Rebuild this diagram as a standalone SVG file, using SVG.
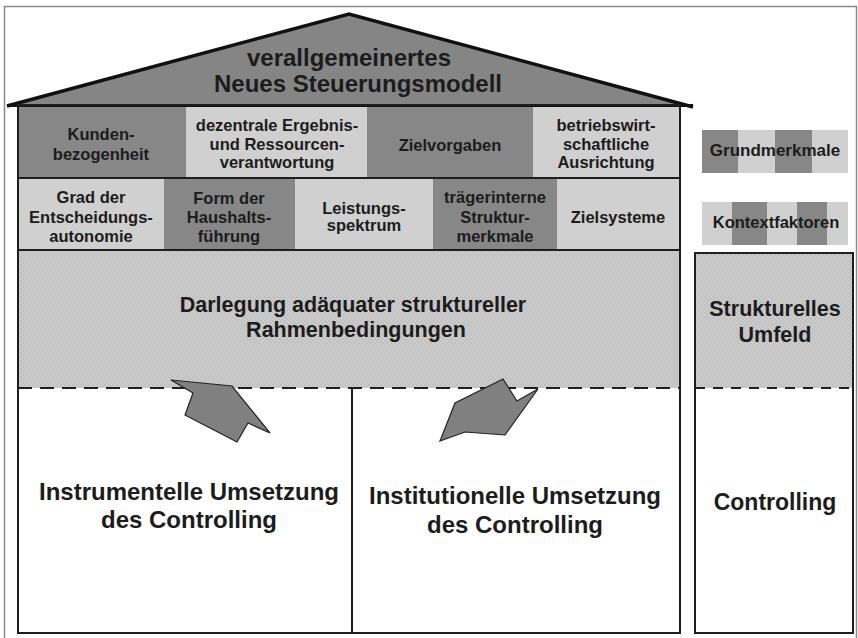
<svg xmlns="http://www.w3.org/2000/svg" width="858" height="638" viewBox="0 0 858 638">
<defs>
<pattern id="tex" width="4" height="4" patternUnits="userSpaceOnUse">
<rect width="4" height="4" fill="#cbcbcb"/>
<rect x="0" y="0" width="2" height="2" fill="#c2c2c2"/>
<rect x="2" y="2" width="2" height="2" fill="#c2c2c2"/>
</pattern>
</defs>
<style>
text{font-family:"Liberation Sans",Arial,Helvetica,sans-serif;font-weight:bold;fill:#1c1c1c;text-anchor:middle}
.dark{fill:#878787}
.light{fill:#d0d0d0}
.c{font-size:16.5px}
.big{font-size:24px}
.mid{font-size:21.5px}
.edge{fill:none;stroke:#1e1e1e;stroke-width:2}
.dash{stroke:#1e1e1e;stroke-width:2;stroke-dasharray:14 8;fill:none}
.arrow{fill:#808080;stroke:#222;stroke-width:1.2;stroke-linejoin:miter}
</style>
<rect width="858" height="638" fill="#ffffff"/>
<rect x="4.5" y="6.5" width="852" height="640" fill="none" stroke="#8a8a8a" stroke-width="1.5"/>

<g id="roof">
<polygon points="7,106 349,14 693,107" fill="#858585"/>
<polyline points="7,106 349,14 693,107" fill="none" stroke="#111" stroke-width="3.5" stroke-linejoin="miter"/>
<line x1="7" y1="105.5" x2="693" y2="105.5" stroke="#111" stroke-width="3"/>
<text class="big" x="349" y="66">verallgemeinertes</text>
<text class="big" x="358" y="92">Neues Steuerungsmodell</text>
</g>

<g id="kunden">
<rect class="dark" x="18" y="107" width="168" height="71"/>
<text class="c" x="101" y="140">Kunden-</text>
<text class="c" x="101" y="160">bezogenheit</text>
</g>
<g id="dezentrale">
<rect class="light" x="186" y="107" width="181" height="71"/>
<text class="c" x="277" y="131">dezentrale Ergebnis-</text>
<text class="c" x="277" y="150">und Ressourcen-</text>
<text class="c" x="277" y="168">verantwortung</text>
</g>
<g id="zielvorgaben">
<rect class="dark" x="367" y="107" width="166" height="71"/>
<text class="c" x="450" y="151">Zielvorgaben</text>
</g>
<g id="betriebswirt">
<rect class="light" x="533" y="107" width="147" height="71"/>
<text class="c" x="606" y="131">betriebswirt-</text>
<text class="c" x="606" y="150">schaftliche</text>
<text class="c" x="606" y="168">Ausrichtung</text>
</g>

<g id="grad">
<rect class="light" x="18" y="178" width="146" height="72"/>
<text class="c" x="91" y="203">Grad der</text>
<text class="c" x="91" y="223">Entscheidungs-</text>
<text class="c" x="91" y="242">autonomie</text>
</g>
<g id="form">
<rect class="dark" x="164" y="178" width="131" height="72"/>
<text class="c" x="229" y="204">Form der</text>
<text class="c" x="229" y="223">Haushalts-</text>
<text class="c" x="229" y="242">führung</text>
</g>
<g id="leistung">
<rect class="light" x="295" y="178" width="138" height="72"/>
<text class="c" x="364" y="214">Leistungs-</text>
<text class="c" x="364" y="231">spektrum</text>
</g>
<g id="traeger">
<rect class="dark" x="433" y="178" width="124" height="72"/>
<text class="c" x="495" y="203">trägerinterne</text>
<text class="c" x="495" y="223">Struktur-</text>
<text class="c" x="495" y="242">merkmale</text>
</g>
<g id="zielsysteme">
<rect class="light" x="557" y="178" width="123" height="72"/>
<text class="c" x="618" y="223">Zielsysteme</text>
</g>

<g id="rahmen">
<rect x="18" y="250" width="662" height="138" fill="url(#tex)"/>
<text class="mid" x="353" y="312">Darlegung adäquater struktureller</text>
<text class="mid" x="356" y="337">Rahmenbedingungen</text>
</g>

<g id="instrumentell">
<text class="big" x="189" y="500">Instrumentelle Umsetzung</text>
<text class="big" x="189" y="528">des Controlling</text>
</g>
<g id="institutionell">
<text class="big" x="515" y="504">Institutionelle Umsetzung</text>
<text class="big" x="515" y="533">des Controlling</text>
</g>

<g id="house-frame">
<line x1="18" y1="178" x2="680" y2="178" stroke="#1e1e1e" stroke-width="2"/>
<line x1="18" y1="250" x2="680" y2="250" stroke="#1e1e1e" stroke-width="2"/>
<line class="dash" x1="18" y1="388" x2="680" y2="388"/>
<line x1="352" y1="388" x2="352" y2="633" stroke="#1e1e1e" stroke-width="2"/>
<rect class="edge" x="18" y="105" width="662" height="528"/>
</g>

<g id="grundmerkmale">
<rect x="702" y="130" width="36" height="43" fill="#878787"/>
<rect x="738" y="130" width="37" height="43" fill="#d0d0d0"/>
<rect x="775" y="130" width="37" height="43" fill="#878787"/>
<rect x="812" y="130" width="36" height="43" fill="#d0d0d0"/>
<text x="775" y="156" style="font-size:17px">Grundmerkmale</text>
</g>
<g id="kontextfaktoren">
<rect x="702" y="202" width="30" height="43" fill="#d0d0d0"/>
<rect x="732" y="202" width="35" height="43" fill="#878787"/>
<rect x="767" y="202" width="30" height="43" fill="#d0d0d0"/>
<rect x="797" y="202" width="30" height="43" fill="#878787"/>
<rect x="827" y="202" width="21" height="43" fill="#d0d0d0"/>
<text x="776" y="228" style="font-size:16.5px">Kontextfaktoren</text>
</g>

<g id="umfeld">
<rect x="695" y="253" width="158" height="135" fill="url(#tex)"/>
<text class="mid" x="775" y="316">Strukturelles</text>
<text class="mid" x="775" y="342">Umfeld</text>
<line x1="695" y1="388" x2="853" y2="388" stroke="#1e1e1e" stroke-width="2" stroke-dasharray="10 8"/>
<text x="775" y="510" style="font-size:23px">Controlling</text>
<rect class="edge" x="695" y="253" width="158" height="380"/>
</g>

<g id="connectors">
<polygon class="arrow" points="171,380 232,386 270,433 248,423 237,442 185,415 193,393"/>
<polygon class="arrow" points="440,441 455,403 503,379 517,401 538,389 505,435 465,432"/>
</g>
</svg>
